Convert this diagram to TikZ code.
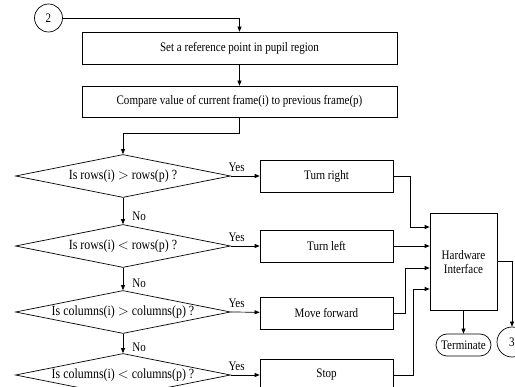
\documentclass[tikz,border=0pt]{standalone}
\usepackage{fontspec}
\setmainfont{Liberation Serif}[FakeStretch=0.85]
\usetikzlibrary{shapes.geometric,shapes.misc,arrows.meta}

\tikzset{
    box/.style={draw, rectangle, minimum height=32pt, inner sep=1pt},
    test/.style={draw, diamond, aspect=5, minimum width=215pt, minimum height=43pt, inner sep=0pt,
                 font=\fontsize{14}{15}\selectfont},
    conn/.style={draw, circle, minimum size=28pt, inner sep=0pt},
    arr/.style={-{Triangle[length=5pt,width=4pt]}},
    lbl/.style={inner sep=1pt}
}

\begin{document}
\begin{tikzpicture}[x=1pt, y=-1pt, line width=0.7pt,
                    font=\fontsize{13}{14}\selectfont]
    \useasboundingbox (0,0) rectangle (515,387);
    \clip (0,0) rectangle (515,387);

    % Ingresso e passi iniziali
    \node[conn] (c2) at (48.5,18) {2};
    \node[box, minimum width=315pt] (set) at (239.5,48) {Set a reference point in pupil region};
    \node[box, minimum width=315pt, minimum height=31pt] (cmp) at (239.5,101.5) {Compare value of current frame(i) to previous frame(p)};

    % Le quattro domande
    \node[test] (d1) at (123,176) {Is rows(i) $>$ rows(p) ?};
    \node[test] (d2) at (123,246) {Is rows(i) $<$ rows(p) ?};
    \node[test] (d3) at (123,312) {Is columns(i) $>$ columns(p) ?};
    \node[test] (d4) at (123,375) {Is columns(i) $<$ columns(p) ?};

    % Le azioni
    \node[box, minimum width=133pt] (tr) at (326.5,176) {Turn right};
    \node[box, minimum width=133pt] (tl) at (326.5,246) {Turn left};
    \node[box, minimum width=133pt] (mf) at (326.5,313) {Move forward};
    \node[box, minimum width=133pt] (st) at (326.5,375) {Stop};

    % Interfaccia e uscite
    \node[draw, rectangle, minimum width=67pt, minimum height=97pt, align=center] (hw) at (463.5,262) {Hardware\\Interface};
    \node[draw, rounded rectangle, minimum width=57pt, minimum height=22pt, inner sep=1pt] (term) at (463.5,345) {Terminate};
    \node[conn, minimum size=30pt] (c3) at (512,342) {3};

    % Percorso principale
    \draw[arr] (c2.east) -| (set.north);
    \draw[arr] (set) -- (cmp);
    \draw[arr] (cmp.south) -- ++(0,16) -| (d1.north);

    \draw[arr] (d1) -- node[lbl, pos=0.7, right=8pt] {No} (d2);
    \draw[arr] (d2) -- node[lbl, pos=0.7, right=8pt] {No} (d3);
    \draw[arr] (d3) -- node[lbl, pos=0.7, right=8pt] {No} (d4);

    \draw[arr] (d1.east) -- node[lbl, pos=0.2, above=3pt] {Yes} (tr);
    \draw[arr] (d2.east) -- node[lbl, pos=0.2, above=3pt] {Yes} (tl);
    \draw[arr] (d3.east) -- node[lbl, pos=0.2, above=3pt] {Yes} (mf);
    \draw[arr] (d4.east) -- node[lbl, pos=0.2, above=3pt] {Yes} (st);

    % Verso l'interfaccia
    \draw[arr] (tr.east) -- ++(17,0) |- ([yshift=35pt]hw.west);
    \draw[arr] (tl.east) -- ([yshift=16pt]hw.west);
    \draw[arr] (mf.east) -- ++(12,0) |- ([yshift=-6pt]hw.west);
    \draw[arr] (st.east) -- ++(20,0) |- ([yshift=-27pt]hw.west);

    \draw[arr] (hw.south) -- (term.north);
    \draw[arr] ([yshift=1pt]hw.east) -| (c3.north);
\end{tikzpicture}
\end{document}
